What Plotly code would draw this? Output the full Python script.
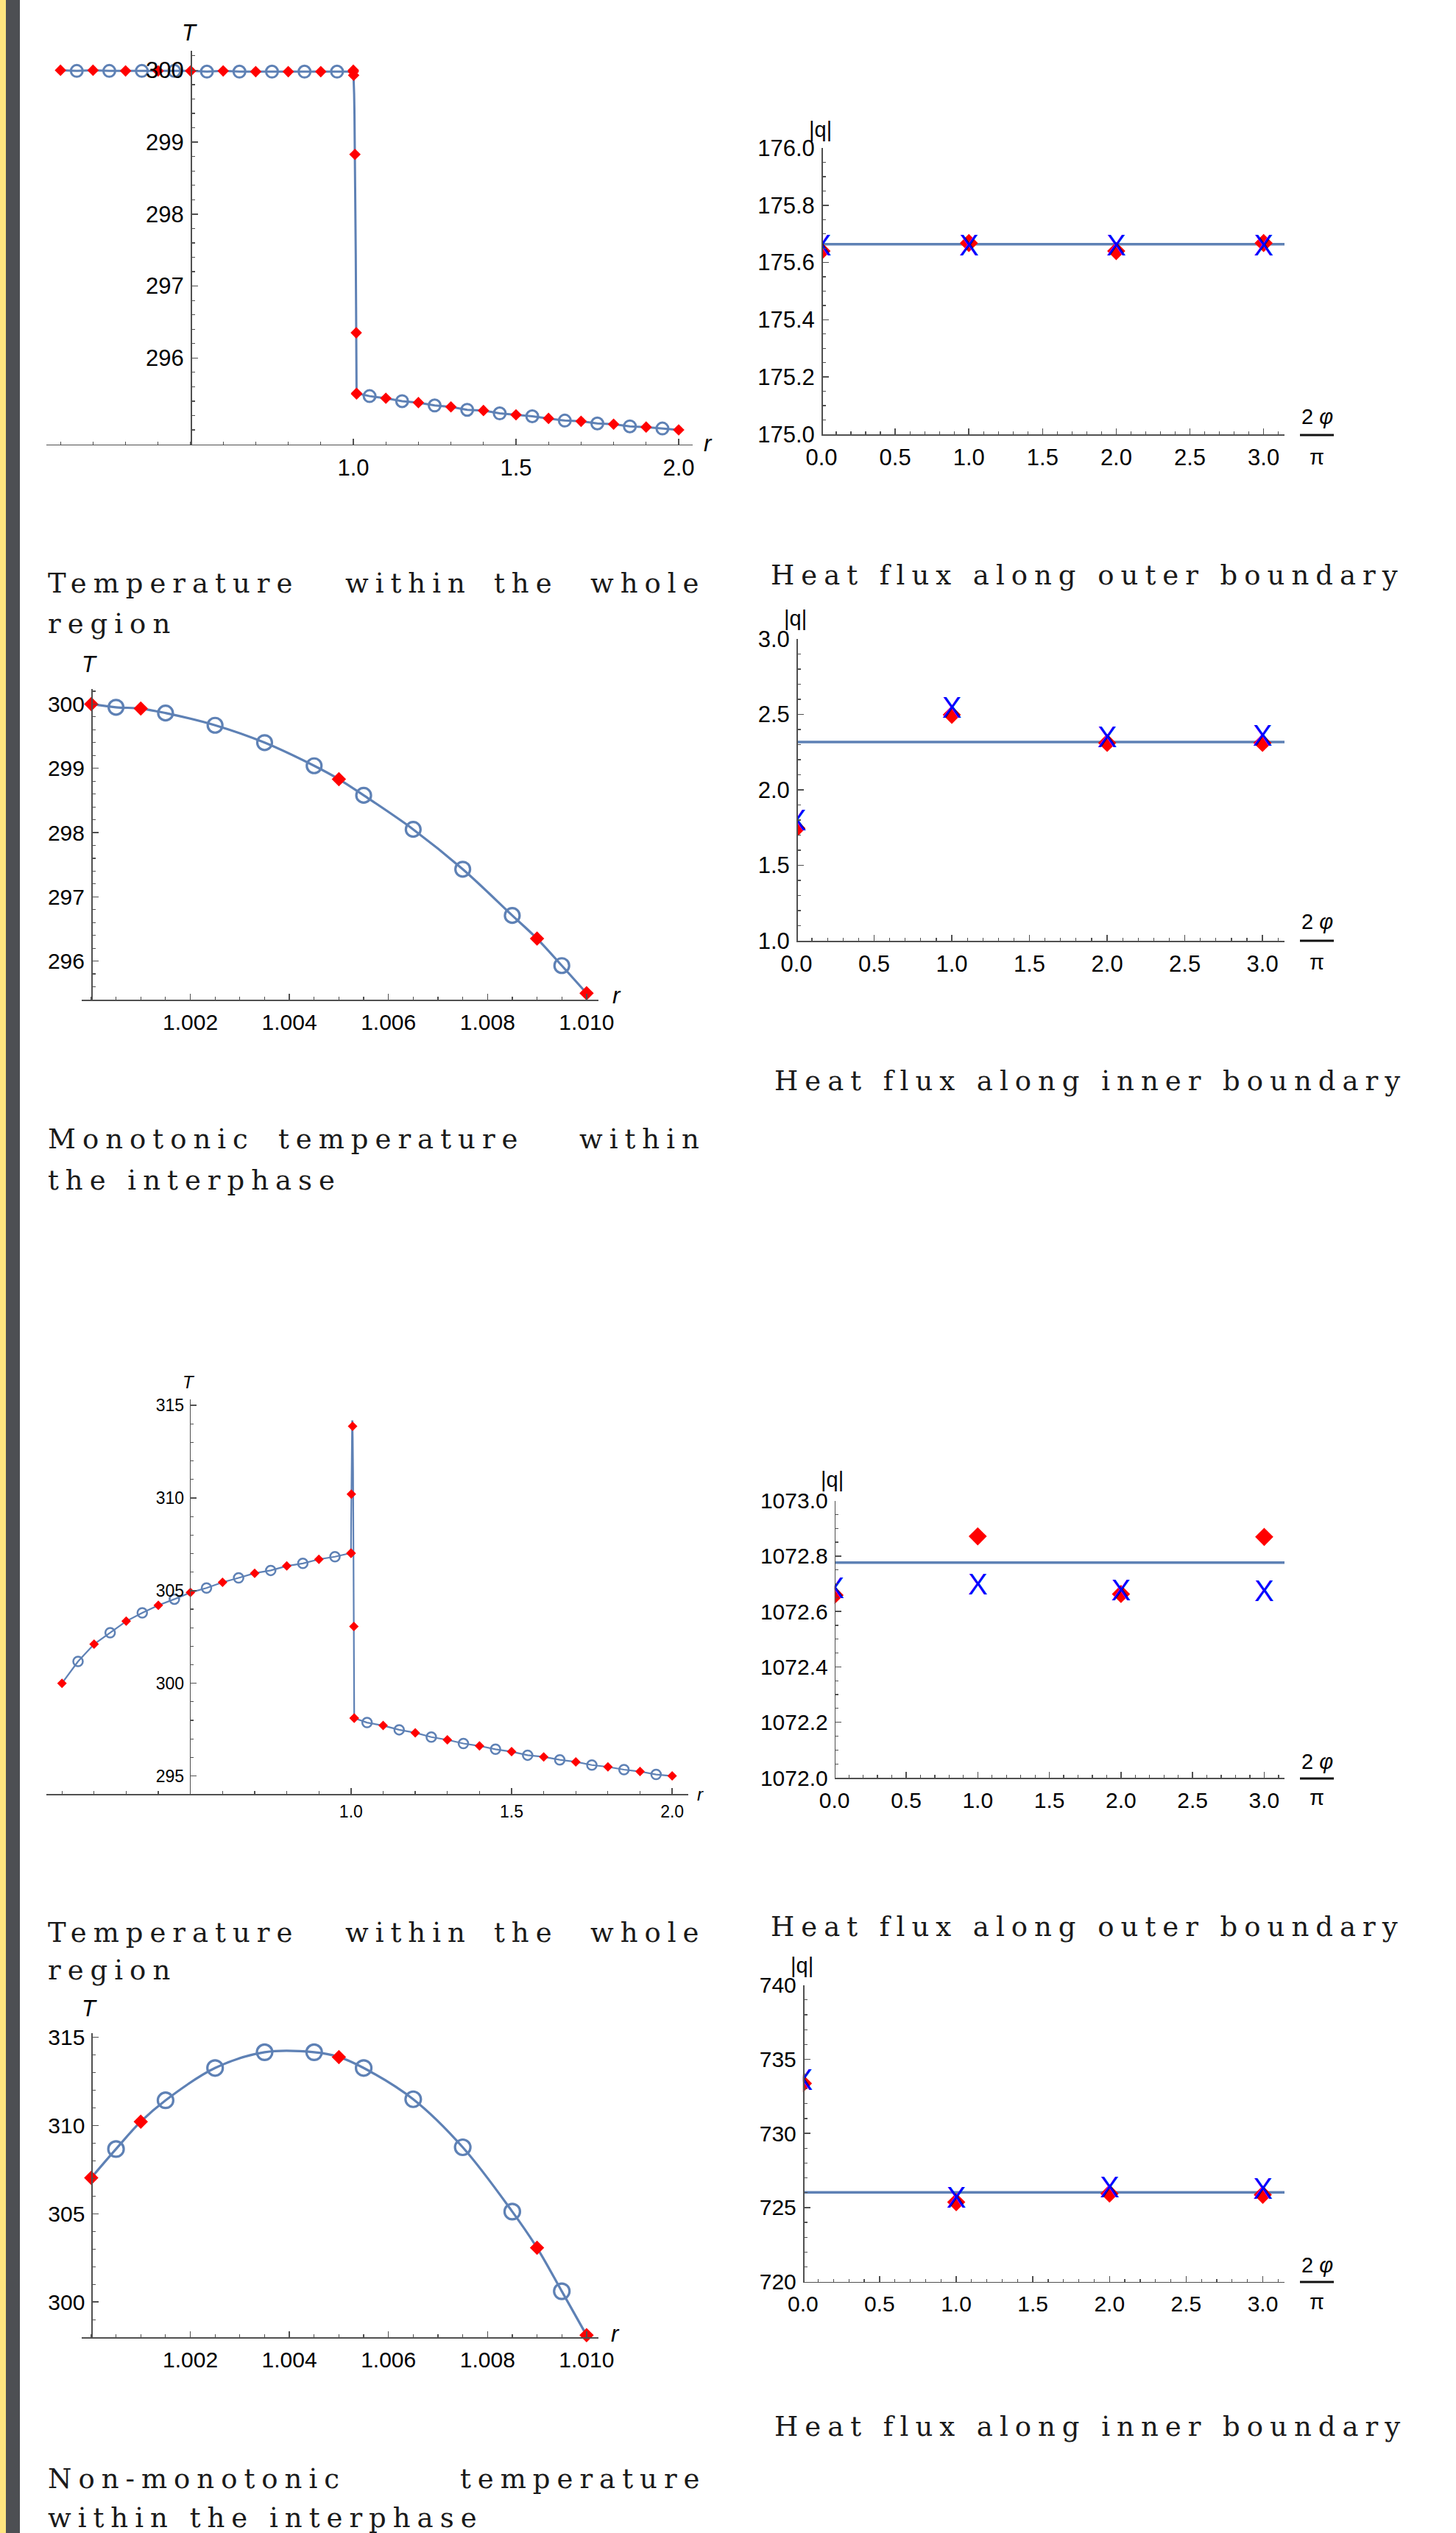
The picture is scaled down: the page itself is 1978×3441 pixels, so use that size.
import numpy as np
import plotly.graph_objects as go

W, H = 1978, 3441

# ---------------------------------------------------------------- data
# radial sample points
r_in_num = [0.1, 0.2, 0.3, 0.4, 0.5, 0.6, 0.7, 0.8, 0.9, 1.0]
r_in_ref = [0.15, 0.25, 0.35, 0.45, 0.55, 0.65, 0.75, 0.85, 0.95]
r_ip_num = [1.000, 1.001, 1.005, 1.009, 1.010]
r_ip_ref = [1.0005, 1.0015, 1.0025, 1.0035, 1.0045, 1.0055, 1.0065, 1.0075, 1.0085, 1.0095]
r_out_num = [1.01, 1.1, 1.2, 1.3, 1.4, 1.5, 1.6, 1.7, 1.8, 1.9, 2.0]
r_out_ref = [1.05, 1.15, 1.25, 1.35, 1.45, 1.55, 1.65, 1.75, 1.85, 1.95]

# case 1: monotonic temperature in the interphase
T1_in_num = [300.00, 300.00, 299.99, 299.99, 299.99, 299.99, 299.98, 299.98, 299.98, 299.98]
T1_in_ref = [299.99, 299.99, 299.99, 299.99, 299.98, 299.98, 299.98, 299.98, 299.98]
T1_ip_num = [300.00, 299.93, 298.83, 296.35, 295.50]
T1_ip_ref = [299.95, 299.86, 299.67, 299.40, 299.04, 298.58, 298.05, 297.43, 296.71, 295.93]
T1_out_num = [295.51, 295.44, 295.38, 295.32, 295.27, 295.21, 295.16, 295.12, 295.08, 295.04, 295.00]
T1_out_ref = [295.47, 295.40, 295.34, 295.28, 295.23, 295.19, 295.13, 295.09, 295.05, 295.02]

# case 2: non-monotonic temperature in the interphase
T2_in_num = [300.00, 302.11, 303.35, 304.21, 304.90, 305.45, 305.94, 306.33, 306.69, 307.01]
T2_in_ref = [301.18, 302.73, 303.80, 304.54, 305.14, 305.69, 306.09, 306.47, 306.83]
T2_ip_num = [307.03, 310.21, 313.87, 303.07, 298.12]
T2_ip_ref = [308.66, 311.42, 313.25, 314.14, 314.14, 313.25, 311.48, 308.76, 305.12, 300.61]
T2_out_num = [298.12, 297.72, 297.33, 296.95, 296.62, 296.31, 296.03, 295.76, 295.49, 295.24, 295.00]
T2_out_ref = [297.88, 297.49, 297.10, 296.75, 296.44, 296.12, 295.87, 295.59, 295.34, 295.08]

# heat flux along boundaries (abscissa 2*phi/pi)
phi_nodes = [0, 1, 2, 3]
phi_span = [0, 3.1416]
q1_outer_num = [175.640, 175.668, 175.640, 175.668]
q1_outer_bem = [175.650, 175.650, 175.650, 175.650]
q1_outer_exact = 175.664
q1_inner_num = [1.745, 2.497, 2.311, 2.311]
q1_inner_bem = [1.780, 2.525, 2.330, 2.340]
q1_inner_exact = 2.317
q2_outer_num = [1072.659, 1072.871, 1072.663, 1072.869]
q2_outer_bem = [1072.674, 1072.689, 1072.667, 1072.664]
q2_outer_exact = 1072.776
q2_inner_num = [733.37, 725.36, 725.94, 725.86]
q2_inner_bem = [733.42, 725.49, 726.19, 726.10]
q2_inner_exact = 726.02

# tick labels
tick_r_whole = [1.0, 1.5, 2.0]
tick_r_whole_text = ['1.0', '1.5', '2.0']
tick_r_ip = [1.002, 1.004, 1.006, 1.008, 1.010]
tick_r_ip_text = ['1.002', '1.004', '1.006', '1.008', '1.010']
tick_phi = [0, 0.5, 1.0, 1.5, 2.0, 2.5, 3.0]
tick_phi_text = ['0.0', '0.5', '1.0', '1.5', '2.0', '2.5', '3.0']
tick_T1 = [296, 297, 298, 299, 300]
tick_T1_text = ['296', '297', '298', '299', '300']
tick_T2 = [295, 300, 305, 310, 315]
tick_T2_text = ['295', '300', '305', '310', '315']
tick_T2ip = [300, 305, 310, 315]
tick_T2ip_text = ['300', '305', '310', '315']
tick_q1o = [175.0, 175.2, 175.4, 175.6, 175.8, 176.0]
tick_q1o_text = ['175.0', '175.2', '175.4', '175.6', '175.8', '176.0']
tick_q1i = [1.0, 1.5, 2.0, 2.5, 3.0]
tick_q1i_text = ['1.0', '1.5', '2.0', '2.5', '3.0']
tick_q2o = [1072.0, 1072.2, 1072.4, 1072.6, 1072.8, 1073.0]
tick_q2o_text = ['1072.0', '1072.2', '1072.4', '1072.6', '1072.8', '1073.0']
tick_q2i = [720, 725, 730, 735, 740]
tick_q2i_text = ['720', '725', '730', '735', '740']

captions = {
    'whole': ['Temperature', 'within', 'the', 'whole'],
    'whole2': 'region',
    'outer': 'Heat flux along outer boundary',
    'inner': 'Heat flux along inner boundary',
    'mono': ['Monotonic', 'temperature', 'within'],
    'mono2': 'the interphase',
    'nonmono': ['Non-monotonic', 'temperature'],
    'nonmono2': 'within the interphase',
}

# ---------------------------------------------------------------- style
LINEC = '#5E81B5'
RED = '#FF0000'
BLUE = '#0000FF'
AXC = '#505050'
SANS = 'Liberation Sans, Arial, sans-serif'
SERIF = 'DejaVu Serif, serif'


def px(xp):
    return xp / W


def py(yp):
    return 1 - yp / H


def merged(*pairs):
    pts = []
    for xs, ys in pairs:
        pts += list(zip(xs, ys))
    pts.sort(key=lambda p: p[0])
    return [p[0] for p in pts], [p[1] for p in pts]


fig = go.Figure()
layout = {}


def panel(i, xdom, ydom, xr, yr, ypos, xt, yt, xminor, yminor, fs):
    xa = 'xaxis' if i == 1 else f'xaxis{i}'
    ya = 'yaxis' if i == 1 else f'yaxis{i}'
    common = dict(showline=True, linecolor=AXC, linewidth=1.7, ticks='inside',
                  ticklen=8, tickwidth=1.5, tickcolor=AXC, showgrid=False,
                  zeroline=False, fixedrange=True, automargin=False,
                  tickfont=dict(family=SANS, size=fs, color='#000000'),
                  ticklabelstandoff=3)
    layout[xa] = dict(common, domain=[px(xdom[0]), px(xdom[1])], range=xr,
                      anchor=f'y{i}' if i > 1 else 'y', tickmode='array',
                      tickvals=xt[0], ticktext=xt[1],
                      minor=dict(tickmode='array', tickvals=xminor, ticks='inside',
                                 ticklen=4, tickwidth=1.2, tickcolor=AXC))
    layout[ya] = dict(common, domain=[py(ydom[1]), py(ydom[0])], range=yr,
                      anchor='free', position=px(ypos), side='left', tickmode='array',
                      tickvals=yt[0], ticktext=yt[1],
                      minor=dict(tickmode='array', tickvals=yminor, ticks='inside',
                                 ticklen=4, tickwidth=1.2, tickcolor=AXC))
    return ('x' if i == 1 else f'x{i}'), ('y' if i == 1 else f'y{i}')


def grid(a, b, step):
    return list(np.round(np.arange(a, b + step / 2, step), 6))


def line(ax, x, y, w=3, shape='linear'):
    fig.add_trace(go.Scatter(x=x, y=y, mode='lines', xaxis=ax[0], yaxis=ax[1],
                             line=dict(color=LINEC, width=w, shape=shape),
                             hoverinfo='skip', showlegend=False, cliponaxis=False))


def circles(ax, x, y, s, w=3):
    fig.add_trace(go.Scatter(x=x, y=y, mode='markers', xaxis=ax[0], yaxis=ax[1],
                             marker=dict(symbol='circle-open', size=s, color=LINEC,
                                         line=dict(width=w, color=LINEC)),
                             hoverinfo='skip', showlegend=False, cliponaxis=False))


def diamonds(ax, x, y, s, clip=False):
    fig.add_trace(go.Scatter(x=x, y=y, mode='markers', xaxis=ax[0], yaxis=ax[1],
                             marker=dict(symbol='diamond', size=s, color=RED,
                                         line=dict(width=0)),
                             hoverinfo='skip', showlegend=False, cliponaxis=clip))


def crosses(ax, x, y, s):
    fig.add_trace(go.Scatter(x=x, y=y, mode='text', xaxis=ax[0], yaxis=ax[1],
                             text=['X'] * len(x), textposition='middle center',
                             textfont=dict(family=SANS, size=s, color=BLUE),
                             hoverinfo='skip', showlegend=False, cliponaxis=True))


annotations = []
shapes = []


def label(xp, yp, text, size, family=SANS, xanchor='center', yanchor='middle', color='#000000'):
    annotations.append(dict(x=px(xp), y=py(yp), xref='paper', yref='paper', text=text,
                            showarrow=False, xanchor=xanchor, yanchor=yanchor,
                            font=dict(family=family, size=size, color=color)))


def frac(xc, ytop, ybar, ybot, size):
    label(xc, ytop, '2 <i>φ</i>', size)
    label(xc, ybot, 'π', size)
    shapes.append(dict(type='line', xref='paper', yref='paper', x0=px(xc - 23), x1=px(xc + 23),
                       y0=py(ybar), y1=py(ybar), line=dict(color='#111111', width=3)))


# ---------------------------------------------------------------- panel 1
ax = panel(1, (63, 941), (69, 603.6), [0.0566, 2.043], [294.80, 300.27], 259,
           ([0.5] + tick_r_whole, [''] + tick_r_whole_text), (tick_T1, tick_T1_text),
           grid(0.1, 2.0, 0.1), grid(295.0, 300.2, 0.2), 31)
lx, ly = merged((r_in_num, T1_in_num), (r_in_ref, T1_in_ref), (r_ip_num, T1_ip_num),
                (r_ip_ref, T1_ip_ref), (r_out_num, T1_out_num), (r_out_ref, T1_out_ref))
line(ax, lx, ly, 3)
circles(ax, r_in_ref + r_out_ref, T1_in_ref + T1_out_ref, 16)
diamonds(ax, r_in_num + r_ip_num + r_out_num, T1_in_num + T1_ip_num + T1_out_num, 12)
label(257, 45, '<i>T</i>', 31)
label(962, 603, '<i>r</i>', 31)

# ---------------------------------------------------------------- panel 2
ax = panel(2, (1116, 1745), (201, 590), [0, 3.1416], [175.0, 176.0], 1116,
           (tick_phi, tick_phi_text), (tick_q1o, tick_q1o_text),
           grid(0, 3.1, 0.1), grid(175.0, 176.0, 0.05), 31)
line(ax, phi_span, [q1_outer_exact] * 2, 3.5)
diamonds(ax, phi_nodes, q1_outer_num, 19, clip=True)
crosses(ax, phi_nodes, q1_outer_bem, 40)
label(1114, 176, '|q|', 29)
frac(1789, 566, 591, 621, 29)

# ---------------------------------------------------------------- panel 3
ax = panel(3, (110.5, 813), (936, 1358), [0.9998, 1.01024], [295.40, 300.234], 124,
           (tick_r_ip, tick_r_ip_text), (tick_T1, tick_T1_text),
           grid(1.0, 1.010, 0.0005), grid(295.4, 300.2, 0.2), 30)
lx, ly = merged((r_ip_num, T1_ip_num), (r_ip_ref, T1_ip_ref))
line(ax, lx, ly, 3.2, 'spline')
circles(ax, r_ip_ref, T1_ip_ref, 20, 3.2)
diamonds(ax, r_ip_num, T1_ip_num, 15)
label(121, 903, '<i>T</i>', 31)
label(838, 1352, '<i>r</i>', 31)

# ---------------------------------------------------------------- panel 4
ax = panel(4, (1082, 1745), (868, 1278), [0, 3.1416], [1.0, 3.0], 1082,
           (tick_phi, tick_phi_text), (tick_q1i, tick_q1i_text),
           grid(0, 3.1, 0.1), grid(1.0, 3.0, 0.1), 31)
line(ax, phi_span, [q1_inner_exact] * 2, 3.5)
diamonds(ax, phi_nodes, q1_inner_num, 19, clip=True)
crosses(ax, phi_nodes, q1_inner_bem, 40)
label(1080, 840, '|q|', 29)
frac(1789, 1252, 1278, 1307, 29)

# ---------------------------------------------------------------- panel 5
ax = panel(5, (63, 934.5), (1901, 2437), [0.0514, 2.049], [294.03, 315.32], 257.6,
           ([0.5] + tick_r_whole, [''] + tick_r_whole_text), (tick_T2, tick_T2_text),
           grid(0.1, 2.0, 0.1), grid(295, 315, 1), 23)
lx, ly = merged((r_in_num, T2_in_num), (r_in_ref, T2_in_ref), (r_ip_num, T2_ip_num),
                (r_ip_ref, T2_ip_ref), (r_out_num, T2_out_num), (r_out_ref, T2_out_ref))
line(ax, lx, ly, 2.2)
circles(ax, r_in_ref + r_out_ref, T2_in_ref + T2_out_ref, 13, 2.5)
diamonds(ax, r_in_num + r_ip_num + r_out_num, T2_in_num + T2_ip_num + T2_out_num, 10)
label(256, 1877, '<i>T</i>', 24)
label(951, 2437, '<i>r</i>', 24)

# ---------------------------------------------------------------- panel 6
ax = panel(6, (1133.7, 1745), (2038.5, 2415), [0, 3.1416], [1072.0, 1073.0], 1133.7,
           (tick_phi, tick_phi_text), (tick_q2o, tick_q2o_text),
           grid(0, 3.1, 0.1), grid(1072.0, 1073.0, 0.05), 30)
line(ax, phi_span, [q2_outer_exact] * 2, 3.5)
diamonds(ax, phi_nodes, q2_outer_num, 19, clip=True)
crosses(ax, phi_nodes, q2_outer_bem, 40)
label(1130, 2010, '|q|', 29)
frac(1789, 2393, 2416, 2442, 29)

# ---------------------------------------------------------------- panel 7
ax = panel(7, (110.5, 813), (2762, 3175), [0.9998, 1.01024], [298.01, 315.22], 124.4,
           (tick_r_ip, tick_r_ip_text), (tick_T2ip, tick_T2ip_text),
           grid(1.0, 1.010, 0.0005), grid(299, 315, 1), 30)
lx, ly = merged((r_ip_num, T2_ip_num), (r_ip_ref, T2_ip_ref))
line(ax, lx, ly, 3.2, 'spline')
circles(ax, r_ip_ref, T2_ip_ref, 21, 3.2)
diamonds(ax, r_ip_num, T2_ip_num, 15)
label(121, 2728, '<i>T</i>', 31)
label(836, 3170, '<i>r</i>', 31)

# ---------------------------------------------------------------- panel 8
ax = panel(8, (1090.8, 1745), (2696.7, 3099.6), [0, 3.1416], [720, 740], 1090.8,
           (tick_phi, tick_phi_text), (tick_q2i, tick_q2i_text),
           grid(0, 3.1, 0.1), grid(720, 740, 1), 30)
line(ax, phi_span, [q2_inner_exact] * 2, 3.5)
diamonds(ax, phi_nodes, q2_inner_num, 19, clip=True)
crosses(ax, phi_nodes, q2_inner_bem, 40)
label(1089, 2670, '|q|', 29)
frac(1789, 3077, 3100, 3127, 29)

# ---------------------------------------------------------------- captions
CAP = 37
LS = 9
RIGHT = 952 + LS  # right edge of the justified left-column lines


def cap(xp, yp, text, anchor='left'):
    label(xp, yp, f'<span style="letter-spacing:{LS}px">{text}</span>', CAP, SERIF,
          xanchor=anchor, color='#1a1a1a')


for yl1, yl2 in [(793, 847), (2625, 2676)]:
    w = captions['whole']
    cap(63, yl1, w[0])
    cap(467, yl1, w[1])
    cap(669, yl1, w[2])
    cap(RIGHT, yl1, w[3], 'right')
    cap(63, yl2, captions['whole2'])
cap(1045, 781, captions['outer'])
cap(1045, 2617, captions['outer'])
cap(1050, 1468, captions['inner'])
cap(1050, 3296, captions['inner'])
m = captions['mono']
cap(63, 1548, m[0])
cap(376, 1548, m[1])
cap(RIGHT, 1548, m[2], 'right')
cap(63, 1603, captions['mono2'])
nm = captions['nonmono']
cap(63, 3367, nm[0])
cap(RIGHT, 3367, nm[1], 'right')
cap(63, 3420, captions['nonmono2'])

# ---------------------------------------------------------------- page decoration (left edge bars)
shapes.append(dict(type='rect', xref='paper', yref='paper', x0=0, x1=px(8), y0=0, y1=1,
                   fillcolor='#FFE57F', line=dict(width=0), layer='below'))
shapes.append(dict(type='rect', xref='paper', yref='paper', x0=px(8), x1=px(27), y0=0, y1=1,
                   fillcolor='#4D4F53', line=dict(width=0), layer='below'))

fig.update_layout(**layout)
fig.update_layout(width=W, height=H, autosize=False, template='none',
                  margin=dict(l=0, r=0, t=0, b=0, pad=0),
                  paper_bgcolor='white', plot_bgcolor='rgba(0,0,0,0)',
                  showlegend=False, annotations=annotations, shapes=shapes)

fig.write_html("out.html", config={'displayModeBar': False, 'staticPlot': True},
               post_script="document.body.style.margin='0';document.body.style.overflow='hidden';")
